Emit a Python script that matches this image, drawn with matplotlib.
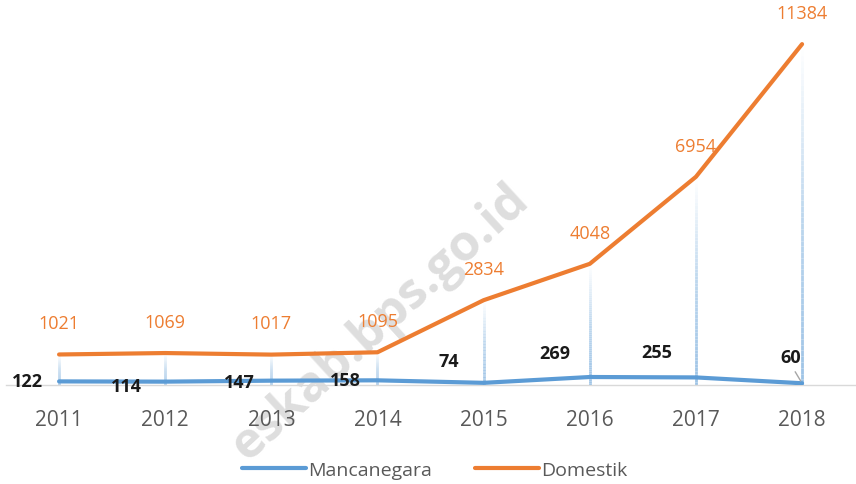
import numpy as np
import matplotlib.pyplot as plt
from matplotlib.collections import LineCollection
from matplotlib.colors import LinearSegmentedColormap

plt.rcParams['font.family'] = ['Open Sans', 'DejaVu Sans']

# Data
years = ["2011", "2012", "2013", "2014", "2015", "2016", "2017", "2018"]
mancanegara = [122, 114, 147, 158, 74, 269, 255, 60]
domestik = [1021, 1069, 1017, 1095, 2834, 4048, 6954, 11384]

# label offsets (points) for the black labels, tuned to the reference
manc_offsets = [(-23, 0), (-28, -3), (-23, -1), (-23, 0), (-25, 16), (-25, 17), (-28, 18), (-8, 19)]

blue = "#5B9BD5"
orange = "#ED7D31"

fig = plt.figure(figsize=(8.56, 4.85), dpi=100)

# watermark (behind everything)
fig.text(0.445, 0.335, "eskab.bps.go.id", rotation=42.5, fontsize=36, fontweight="bold",
         color="#DEDEDE", ha="center", va="center", zorder=-5)

ax = fig.add_axes([0.007, 0.204, 0.992, 0.741])
ax.patch.set_alpha(0)
ax.set_zorder(1)

x = np.arange(len(years))

# drop lines with white-to-blue gradient
cmap = LinearSegmentedColormap.from_list("drop", ["#FFFFFF", "#BDD7EE", "#9DC3E6"])
for xi, top in zip(x, domestik):
    ys = np.linspace(top, 0, 60)
    segs = [[(xi, ys[i]), (xi, ys[i + 1])] for i in range(len(ys) - 1)]
    lc = LineCollection(segs, colors=cmap(np.linspace(0, 1, len(segs))), linewidths=2, zorder=2)
    ax.add_collection(lc)

ax.plot(x, mancanegara, color=blue, lw=3, label="Mancanegara", zorder=3, solid_capstyle="round")
ax.plot(x, domestik, color=orange, lw=3, label="Domestik", zorder=4, solid_capstyle="round")

for xi, v in zip(x, domestik):
    ax.annotate(str(v), (xi, v), xytext=(0, 16), textcoords="offset points",
                ha="center", va="bottom", color=orange, fontsize=13)

for xi, v, off in zip(x, mancanegara, manc_offsets):
    ax.annotate(str(v), (xi, v), xytext=off, textcoords="offset points",
                ha="center", va="center", color="#1a1a1a", fontsize=13, fontweight="bold")

# leader line for the last label
ax.annotate("", (x[-1], mancanegara[-1]), xytext=(-6, 10), textcoords="offset points",
            arrowprops=dict(arrowstyle="-", color="#A6A6A6", lw=1))

ax.set_xlim(-0.5, len(years) - 0.5)
ax.set_ylim(0, 12000)
ax.set_xticks(x)
ax.set_xticklabels(years, fontsize=15, color="#595959")
ax.tick_params(axis="x", length=0, pad=17)
ax.set_yticks([])
for s in ["top", "right", "left"]:
    ax.spines[s].set_visible(False)
ax.spines["bottom"].set_color("#D9D9D9")
ax.spines["bottom"].set_linewidth(1)

ax.legend(loc="center", bbox_to_anchor=(0.505, -0.235), ncol=2, frameon=False,
          fontsize=14, labelcolor="#595959", handlelength=3.3, handletextpad=0.1,
          columnspacing=2.2)

fig.savefig("out.png", dpi=100)
